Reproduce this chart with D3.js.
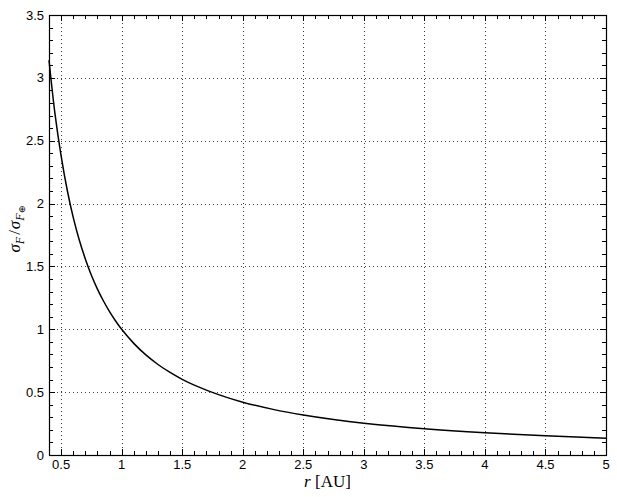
<!DOCTYPE html>
<html><head><meta charset="utf-8">
<script src="https://cdn.jsdelivr.net/npm/d3@7"></script>
<style>body{margin:0;background:#fff}svg{display:block}</style>
</head><body>
<script>
const rValues = [0.40,0.45,0.50,0.55,0.60,0.65,0.70,0.75,0.80,0.85,0.90,0.95,1.00,1.10,1.20,1.30,1.40,1.50,1.60,1.80,2.00,2.25,2.50,2.75,3.00,3.50,4.00,4.50,5.00];
const sigmaValues = [3.14,2.71,2.38,2.11,1.89,1.71,1.56,1.43,1.32,1.225,1.14,1.066,1.00,0.888,0.796,0.720,0.657,0.602,0.556,0.480,0.420,0.363,0.318,0.282,0.253,0.209,0.177,0.153,0.134];
const xTicks = [0.5,1,1.5,2,2.5,3,3.5,4,4.5,5];
const yTicks = [0,0.5,1,1.5,2,2.5,3,3.5];

const W=617,H=497, L=49, R=606, T=15, B=455;
const svg = d3.select("body").append("svg").attr("width",W).attr("height",H);
const x = d3.scaleLinear().domain([0.4,5]).range([L,R]);
const y = d3.scaleLinear().domain([0,3.5]).range([B,T]);

// grid
const g = svg.append("g").attr("stroke","#000").attr("stroke-width",1).attr("stroke-dasharray","1,3").attr("opacity",0.75);
xTicks.filter(v=>v<5).forEach(v=>g.append("line").attr("x1",Math.round(x(v))+0.5).attr("x2",Math.round(x(v))+0.5).attr("y1",T).attr("y2",B));
yTicks.filter(v=>v>0&&v<3.5).forEach(v=>g.append("line").attr("y1",Math.round(y(v))+0.5).attr("y2",Math.round(y(v))+0.5).attr("x1",L).attr("x2",R));

// ticks (inward, all sides)
const minorX = d3.range(4,51).map(d=>d/10);
const minorY = d3.range(0,36).map(d=>d/10);
const tk = svg.append("g").attr("stroke","#000").attr("stroke-width",1);
minorX.forEach(v=>{
  const isMajor = xTicks.some(t=>Math.abs(t-v)<1e-9);
  const len = isMajor?6:4; const px=Math.round(x(v))+0.5;
  tk.append("line").attr("x1",px).attr("x2",px).attr("y1",B).attr("y2",B-len);
  tk.append("line").attr("x1",px).attr("x2",px).attr("y1",T).attr("y2",T+len);
});
minorY.forEach(v=>{
  const isMajor = yTicks.some(t=>Math.abs(t-v)<1e-9);
  const len = isMajor?6:4; const py=Math.round(y(v))+0.5;
  tk.append("line").attr("y1",py).attr("y2",py).attr("x1",L).attr("x2",L+len);
  tk.append("line").attr("y1",py).attr("y2",py).attr("x1",R).attr("x2",R-len);
});

// frame
svg.append("rect").attr("x",L+0.5).attr("y",T+0.5).attr("width",R-L).attr("height",B-T)
  .attr("fill","none").attr("stroke","#000").attr("stroke-width",1.2);

// tick labels
const lab = svg.append("g").style("font-family","'Liberation Sans', Arial, sans-serif").attr("font-size",13).attr("fill","#000");
xTicks.forEach(v=>lab.append("text").attr("x",x(v)).attr("y",B+14).attr("text-anchor","middle").text(v));
yTicks.forEach(v=>lab.append("text").attr("x",L-5).attr("y",y(v)+4.5).attr("text-anchor","end").text(v));

// curve
const data = rValues.map((r,i)=>({r, s:sigmaValues[i]}));
svg.append("path").datum(data)
  .attr("d", d3.line().x(d=>x(d.r)).y(d=>y(d.s)).curve(d3.curveCatmullRom))
  .attr("fill","none").attr("stroke","#000").attr("stroke-width",1.5);

// axis labels
const xl = svg.append("text").attr("x",(L+R)/2).attr("y",B+32).attr("text-anchor","middle")
  .style("font-family","'Liberation Serif', 'Times New Roman', serif").attr("font-size",17);
xl.append("tspan").attr("font-style","italic").text("r");
xl.append("tspan").text(" [AU]");

const yl = svg.append("text").attr("transform",`translate(20,${(T+B)/2-6}) rotate(-90)`).attr("text-anchor","middle")
  .style("font-family","'Liberation Serif', 'Times New Roman', serif").attr("font-size",17);
yl.append("tspan").attr("font-style","italic").text("σ");
yl.append("tspan").attr("font-style","italic").attr("font-size",12).attr("dy",4).text("F");
yl.append("tspan").attr("dy",-4).attr("dx",2).text("/");
yl.append("tspan").attr("font-style","italic").attr("dx",1).text("σ");
yl.append("tspan").attr("font-style","italic").attr("font-size",12).attr("dy",4).text("F");
yl.append("tspan").attr("font-size",9).attr("dy",1).text("⊕");
</script>
</body></html>
